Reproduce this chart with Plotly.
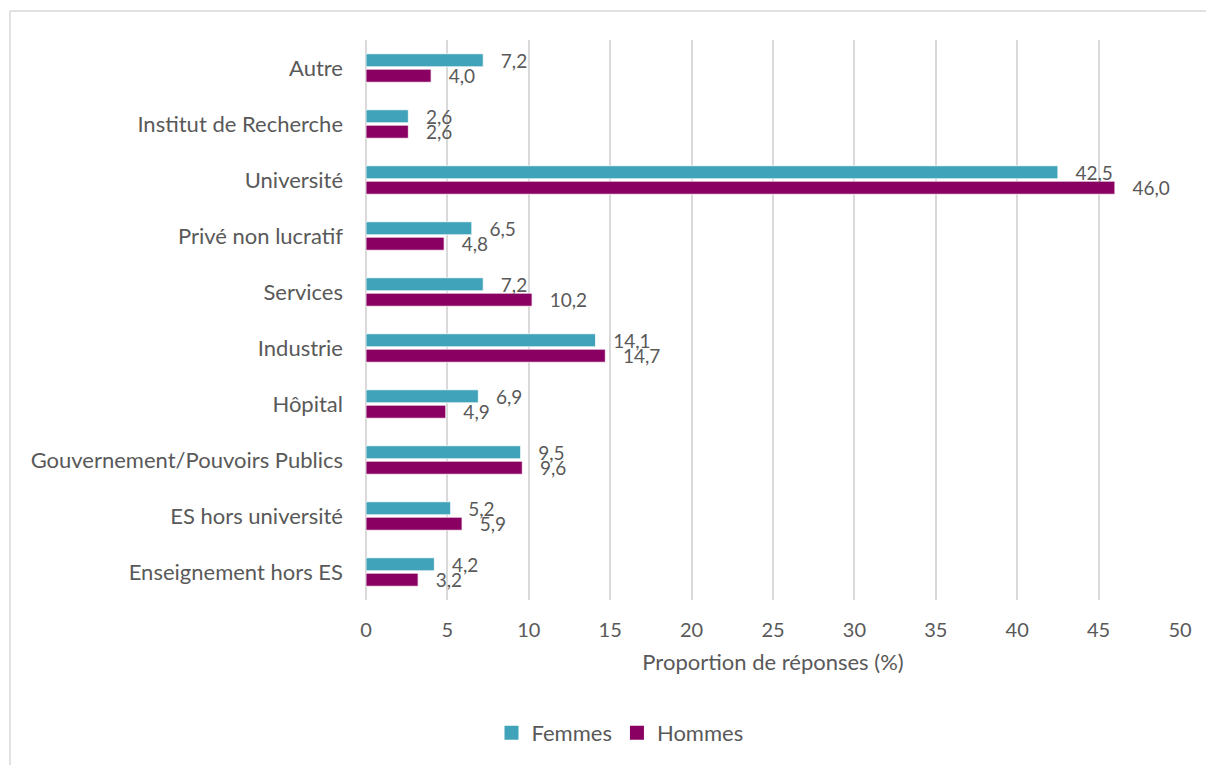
import plotly.graph_objects as go

# Categories listed bottom-to-top (first category sits at the bottom of the axis)
categories = [
    "Enseignement hors ES",
    "ES hors université",
    "Gouvernement/Pouvoirs Publics",
    "Hôpital",
    "Industrie",
    "Services",
    "Privé non lucratif",
    "Université",
    "Institut de Recherche",
    "Autre",
]
femmes = [4.2, 5.2, 9.5, 6.9, 14.1, 7.2, 6.5, 42.5, 2.6, 7.2]
hommes = [3.2, 5.9, 9.6, 4.9, 14.7, 10.2, 4.8, 46.0, 2.6, 4.0]
x_ticks = [0, 5, 10, 15, 20, 25, 30, 35, 40, 45, 50]

TEAL = "#41A3BA"
PLUM = "#8A0062"
TXT = "#595959"
GRID = "#D9D9D9"
FONT = "Lato, Open Sans, sans-serif"
PAD = "\u00a0\u00a0\u00a0"

fig = go.Figure()
# Hommes first so Femmes is drawn above it within each category group
fig.add_trace(go.Bar(
    y=categories, x=hommes, name="Hommes", orientation="h",
    marker=dict(color=PLUM, line=dict(color="white", width=0.8)),
    texttemplate=PAD + "%{x:.1f}", textposition="outside",
    textfont=dict(color=TXT, size=19, family=FONT),
    cliponaxis=False, constraintext="none", showlegend=False,
))
fig.add_trace(go.Bar(
    y=categories, x=femmes, name="Femmes", orientation="h",
    marker=dict(color=TEAL, line=dict(color="white", width=0.8)),
    texttemplate=PAD + "%{x:.1f}", textposition="outside",
    textfont=dict(color=TXT, size=19, family=FONT),
    cliponaxis=False, constraintext="none", showlegend=False,
))

# legend entries with larger square swatches
for name, color in [("Femmes", TEAL), ("Hommes", PLUM)]:
    fig.add_trace(go.Scatter(
        x=[None], y=[None], name=name, mode="markers",
        marker=dict(symbol="square", size=14, color=color),
        showlegend=True, hoverinfo="skip",
    ))

L, R, T, B = 366, 26, 40, 165
W, H = 1206, 765
pw, ph = W - L - R, H - T - B

# light frame around the chart area (top and left edges)
x0 = (10 - L) / pw
ytop = (H - B - 11) / ph
fig.add_shape(type="line", xref="paper", yref="paper", x0=x0, x1=1.2, y0=ytop, y1=ytop,
              line=dict(color=GRID, width=1.5), layer="below")
fig.add_shape(type="line", xref="paper", yref="paper", x0=x0, x1=x0, y0=ytop, y1=-0.4,
              line=dict(color=GRID, width=1.5), layer="below")

fig.update_layout(
    width=W, height=H,
    margin=dict(l=L, r=R, t=T, b=B, autoexpand=False),
    paper_bgcolor="white", plot_bgcolor="white",
    barmode="group", bargap=0.45, bargroupgap=0.15,
    separators=", ",
    font=dict(family=FONT, color=TXT, size=20),
    xaxis=dict(
        range=[0, 50], tickvals=x_ticks, showgrid=True, gridcolor=GRID, gridwidth=1.5,
        zeroline=True, zerolinecolor=GRID, zerolinewidth=1.5,
        showline=False, ticks="", ticklabelstandoff=16,
        tickfont=dict(size=20, color=TXT),
        title=dict(text="Proportion de réponses (%)", font=dict(size=22, color=TXT), standoff=14),
    ),
    yaxis=dict(
        showgrid=False, showline=False, ticks="", ticklabelstandoff=22,
        tickfont=dict(size=22, color=TXT),
    ),
    legend=dict(
        orientation="h",
        x=(620 - L) / pw, xanchor="center", y=-(733 - (H - B)) / ph, yanchor="middle",
        font=dict(size=22, color=TXT), itemwidth=30,
    ),
    showlegend=True,
)

fig.write_html("out.html")
